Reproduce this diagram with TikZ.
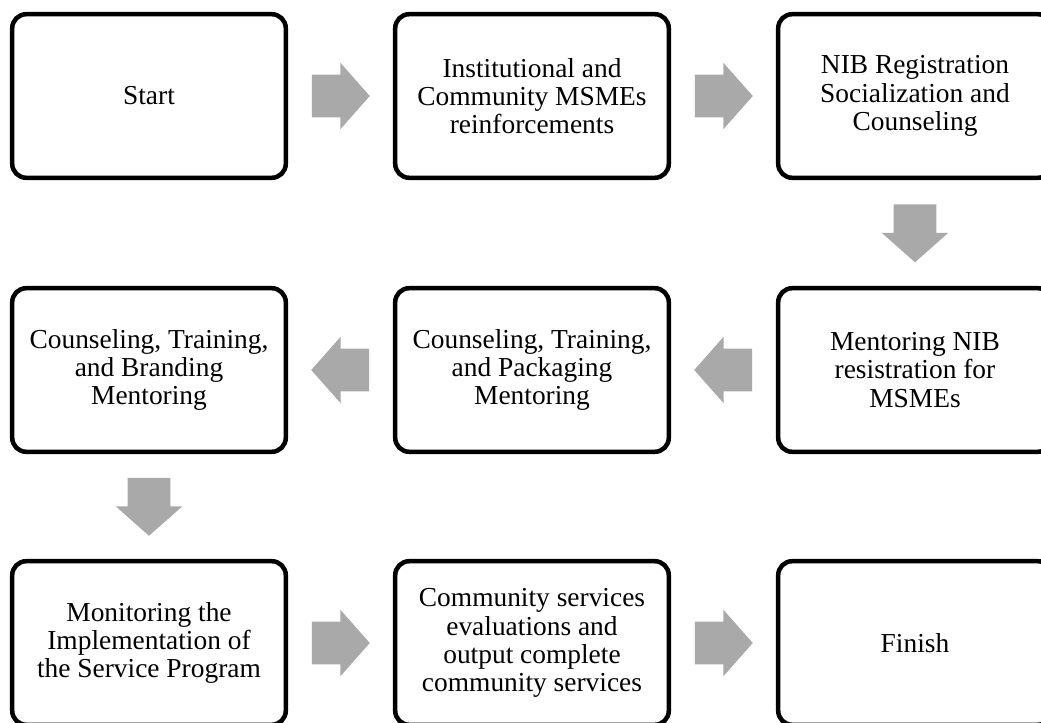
\documentclass[tikz,border=0pt]{standalone}
\usepackage{fontspec}
\setmainfont{Liberation Serif}
\usetikzlibrary{calc,shapes.arrows}

\definecolor{blkgray}{HTML}{A9A9A9}

\begin{document}
\begin{tikzpicture}[
	every node/.style={font=\fontsize{19.5pt}{20pt}\selectfont},
	box/.style={draw, line width=3.2pt, rounded corners=10pt, fill=white, align=center, minimum width=6.84cm, minimum height=4.09cm},
	blk/.style={single arrow, anchor=tail, fill=blkgray, draw=none, inner xsep=0pt, inner ysep=0.525cm, minimum width=0pt, minimum height=1.45cm, single arrow head extend=0.3cm, single arrow tip angle=97}]
	\useasboundingbox (0,0) rectangle (26.025,-18.075);
	% first row, left to right
	\node[box] (start) at (3.725,-2.4) {Start};
	\node[box] (inst) at (13.3,-2.4) {Institutional and\\Community MSMEs\\reinforcements};
	\node[box] (nib) at (22.875,-2.4) {NIB Registration\\Socialization and\\Counseling};
	% second row, right to left
	\node[box] (ment) at (22.875,-9.25) {Mentoring NIB\\resistration for\\MSMEs};
	\node[box] (pack) at (13.3,-9.25) {Counseling, Training,\\and Packaging\\Mentoring};
	\node[box] (brand) at (3.725,-9.25) {Counseling, Training,\\and Branding\\Mentoring};
	% third row
	\node[box] (monit) at (3.725,-16.075) {Monitoring the\\Implementation of\\the Service Program};
	\node[box] (eval) at (13.3,-16.075) {Community services\\evaluations and\\output complete\\community services};
	\node[box] (finish) at (22.875,-16.075) {Finish};
	% block arrows, tail set back half a length from the gap's middle
	\node[blk] (a1) at ($(start.east)!0.5!(inst.west)!0.725cm!(start.east)$) {};
	\node[blk] (a2) at ($(inst.east)!0.5!(nib.west)!0.725cm!(inst.east)$) {};
	\node[blk, rotate=-90] (a3) at ($(nib.south)!0.5!(ment.north)!0.725cm!(nib.south)$) {};
	\node[blk, rotate=180] (a4) at ($(ment.west)!0.5!(pack.east)!0.725cm!(ment.west)$) {};
	\node[blk, rotate=180] (a5) at ($(pack.west)!0.5!(brand.east)!0.725cm!(pack.west)$) {};
	\node[blk, rotate=-90] (a6) at ($(brand.south)!0.5!(monit.north)!0.725cm!(brand.south)$) {};
	\node[blk] (a7) at ($(monit.east)!0.5!(eval.west)!0.725cm!(monit.east)$) {};
	\node[blk] (a8) at ($(eval.east)!0.5!(finish.west)!0.725cm!(eval.east)$) {};
\end{tikzpicture}
\end{document}
